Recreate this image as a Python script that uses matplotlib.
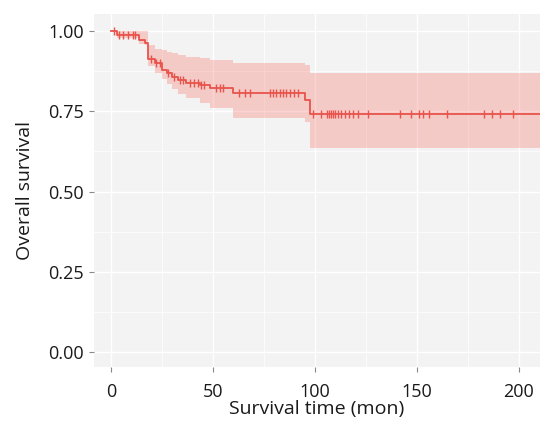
import numpy as np
import matplotlib
matplotlib.use("Agg")
import matplotlib.pyplot as plt
from matplotlib.ticker import MultipleLocator

# Kaplan-Meier step data (time, survival after step, CI)
step_times = [0, 3, 14, 16.5, 18.2, 21.5, 25, 27.5, 30, 33, 37, 43.7, 48.6, 60, 95.3, 97.8]
step_surv = [1.0, 0.988, 0.972, 0.963, 0.912, 0.90, 0.879, 0.869, 0.857, 0.847, 0.838, 0.832, 0.822, 0.806, 0.785, 0.741]
step_upper = [1.0, 1.0, 1.0, 1.0, 0.955, 0.945, 0.94, 0.935, 0.93, 0.925, 0.92, 0.915, 0.91, 0.90, 0.893, 0.869]
step_lower = [1.0, 0.978, 0.96, 0.955, 0.89, 0.87, 0.85, 0.835, 0.82, 0.805, 0.79, 0.775, 0.76, 0.73, 0.715, 0.635]
max_time = 211

censor_times = [1.5, 4, 6, 8.5, 11, 12, 19.5, 22, 24, 28, 31, 34, 35.5, 39, 41, 42.5,
                44, 45.5, 51.5, 53.5, 55, 63, 66, 68, 78, 79.5, 81, 83, 84.5, 86, 88,
                90, 92, 99, 103, 106, 107, 108, 109, 110, 111.5, 113, 115, 117, 119,
                121, 126, 142, 147, 151, 153, 156, 165, 183, 187, 191, 197.5]

x_ticks = [0, 50, 100, 150, 200]
y_ticks = [0.00, 0.25, 0.50, 0.75, 1.00]
x_label = "Survival time (mon)"
y_label = "Overall survival"

plt.rcParams['font.family'] = ['Open Sans', 'DejaVu Sans']

fig = plt.figure(figsize=(5.40, 4.23), dpi=100)
ax = fig.add_axes([0.174, 0.132, 0.826, 0.835])

line_color = "#E8544B"
band_color = "#F8766D"

t = np.array(step_times + [max_time], dtype=float)
s = np.array(step_surv + [step_surv[-1]])
up = np.array(step_upper + [step_upper[-1]])
lo = np.array(step_lower + [step_lower[-1]])

ax.fill_between(t, lo, up, step='post', color=band_color, alpha=0.32, lw=0, zorder=2)
ax.step(t, s, where='post', color=line_color, lw=1.3, zorder=3)

ct = np.array(censor_times)
idx = np.searchsorted(np.array(step_times), ct, side='right') - 1
cs = np.array(step_surv)[idx]
ax.plot(ct, cs, ls='none', marker='|', ms=6, mew=1.0, color=line_color, zorder=4)

ax.set_xlim(-8.3, 210.5)
ax.set_ylim(-0.047, 1.053)
ax.set_xticks(x_ticks)
ax.set_yticks(y_ticks)
ax.set_yticklabels([f"{v:.2f}" for v in y_ticks])
ax.xaxis.set_minor_locator(MultipleLocator(25))
ax.yaxis.set_minor_locator(MultipleLocator(0.125))

ax.set_facecolor("#F3F3F3")
ax.grid(which='major', color='white', lw=1.0, zorder=0)
ax.grid(which='minor', color='white', lw=0.5, zorder=0)
ax.set_axisbelow(True)
for sp in ax.spines.values():
    sp.set_visible(False)

ax.tick_params(which='major', length=3.5, width=0.8, color='#888888',
               labelsize=13, labelcolor='#1a1a1a')
ax.tick_params(axis='x', which='major', pad=8)
ax.tick_params(axis='y', which='major', pad=4)
ax.tick_params(which='minor', length=0)

ax.set_xlabel(x_label, fontsize=14, color='#1a1a1a', labelpad=-1)
ax.set_ylabel(y_label, fontsize=14, color='#1a1a1a', labelpad=10)

fig.savefig("out.png", dpi=100, facecolor='white')
